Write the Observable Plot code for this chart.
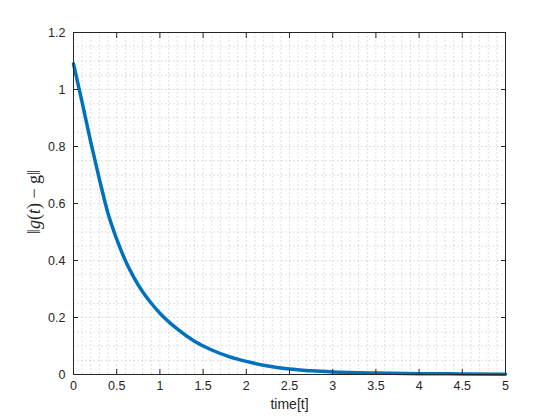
<!DOCTYPE html>
<html><head><meta charset="utf-8">
<script src="https://cdn.jsdelivr.net/npm/d3@7"></script>
<script src="https://cdn.jsdelivr.net/npm/@observablehq/plot@0.6"></script>
<style>html,body{margin:0;padding:0;background:#fff}</style>
</head><body><div id="chart"></div>
<script>
// time samples and ||g(t) - g|| values
const time = [0, 0.1, 0.2, 0.3, 0.4, 0.5, 0.6, 0.7, 0.8, 0.9, 1.0, 1.2, 1.4, 1.6, 1.8, 2.0, 2.25, 2.5, 2.75, 3.0, 3.5, 4.0, 4.5, 5.0];
const norm = [1.09, 0.955, 0.815, 0.685, 0.565, 0.475, 0.40, 0.34, 0.29, 0.25, 0.215, 0.16, 0.117, 0.086, 0.063, 0.046, 0.030, 0.019, 0.013, 0.009, 0.005, 0.003, 0.002, 0.001];
const xTicks = [0, 0.5, 1, 1.5, 2, 2.5, 3, 3.5, 4, 4.5, 5];
const yTicks = [0, 0.2, 0.4, 0.6, 0.8, 1, 1.2];
const xLabel = "time[t]";
const yLabelParts = [["‖", false], ["g", true], ["(", false], ["t", true], [")", false], [" − ", false], ["g", false], ["‖", false]];

const xMinor = d3.range(0, 51).map(i => i / 10);
const yMinor = d3.range(0, 25).map(i => i / 20);
const data = time.map((t, i) => ({t, v: norm[i]}));
const ink = "#262626";
const fmt = d => String(d);

const plot = Plot.plot({
  width: 560, height: 420,
  marginLeft: 73, marginRight: 55, marginTop: 32, marginBottom: 46,
  style: {fontFamily: "'Liberation Sans', Arial, Helvetica, sans-serif", color: ink, background: "#fff", overflow: "visible"},
  x: {domain: [0, 5]},
  y: {domain: [0, 1.2]},
  marks: [
    Plot.ruleX(xMinor, {x: d => d, stroke: "#d2d2d2", strokeWidth: 0.7, strokeDasharray: "2,2"}),
    Plot.ruleY(yMinor, {y: d => d, stroke: "#d2d2d2", strokeWidth: 0.7, strokeDasharray: "2,2"}),
    Plot.line(data, {x: "t", y: "v", stroke: "#0072BD", strokeWidth: 3.5, curve: "monotone-x"}),
    Plot.frame({stroke: ink}),
    Plot.axisX(xTicks, {anchor: "bottom", tickSize: -5, tickPadding: 12, fontSize: 12.5, tickFormat: fmt, label: null, stroke: ink}),
    Plot.axisX(xTicks, {anchor: "top", tickSize: -5, tickFormat: () => "", label: null, stroke: ink}),
    Plot.axisY(yTicks, {anchor: "left", tickSize: -5, tickPadding: 13, fontSize: 12.5, tickFormat: fmt, label: null, stroke: ink}),
    Plot.axisY(yTicks, {anchor: "right", tickSize: -5, tickFormat: () => "", label: null, stroke: ink}),
    Plot.text([xLabel], {frameAnchor: "bottom", dy: 34, fontSize: 14, fill: ink})
  ]
});

const svg = d3.select(plot);
const lab = svg.append("text")
  .attr("transform", "translate(40,202) rotate(-90)")
  .attr("text-anchor", "middle")
  .attr("fill", ink)
  .style("font-family", "'Liberation Serif', 'DejaVu Serif', serif")
  .style("font-size", "18px");
yLabelParts.forEach(([s, it]) => lab.append("tspan").text(s).style("font-style", it ? "italic" : "normal"));

document.getElementById("chart").appendChild(plot);
</script>
</body></html>
